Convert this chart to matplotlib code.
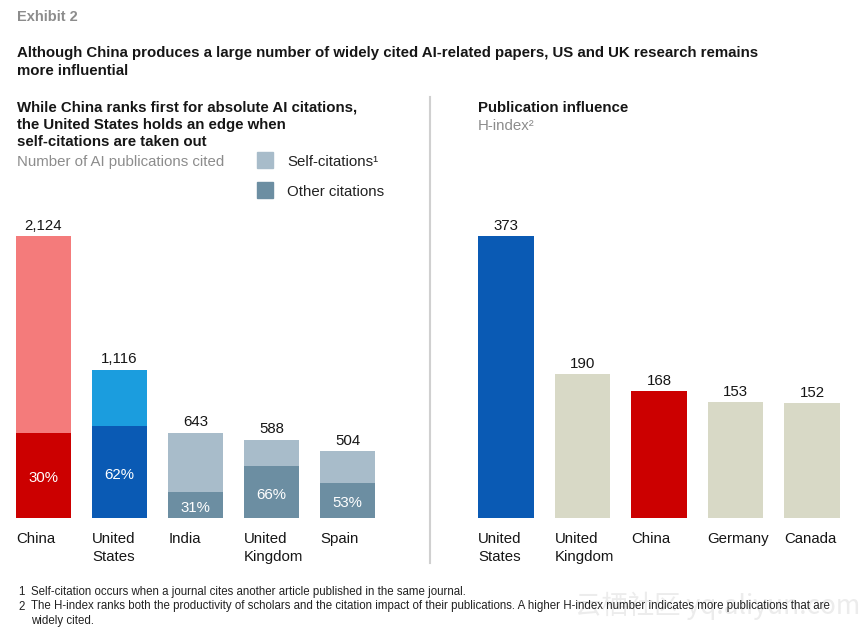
import matplotlib.pyplot as plt
import numpy as np

plt.rcParams['font.family'] = ['Liberation Sans', 'DejaVu Sans']

# left panel: AI citations
cite_countries = ["China", "United\nStates", "India", "United\nKingdom", "Spain"]
cite_totals = [2124, 1116, 643, 588, 504]
other_share = [30, 62, 31, 66, 53]   # % of citations that are not self-citations
self_colors = ['#F47B7B', '#1B9DDE', '#A8BCCA', '#A8BCCA', '#A8BCCA']
other_colors = ['#CC0000', '#0A5AB4', '#6C8EA2', '#6C8EA2', '#6C8EA2']

# right panel: H-index
h_countries = ["United\nStates", "United\nKingdom", "China", "Germany", "Canada"]
h_index = [373, 190, 168, 153, 152]
h_colors = ['#0A5AB4', '#D8D9C6', '#CC0000', '#D8D9C6', '#D8D9C6']

W, H = 866, 636
FS = 10.8
GRAY = '#8C8C8C'
INK = '#161616'


def fx(x):
    return x / W


def fy(y):
    return 1 - y / H


fig = plt.figure(figsize=(W / 100, H / 100), dpi=100)

# headers
fig.text(fx(17), fy(17), "Exhibit 2", fontsize=10.5, fontweight='bold', color=GRAY, va='center')
fig.text(fx(17), fy(53), "Although China produces a large number of widely cited AI-related papers, US and UK research remains",
         fontsize=FS, fontweight='bold', color=INK, va='center')
fig.text(fx(17), fy(71), "more influential", fontsize=FS, fontweight='bold', color=INK, va='center')

for i, line in enumerate(["While China ranks first for absolute AI citations,",
                          "the United States holds an edge when",
                          "self-citations are taken out"]):
    fig.text(fx(17), fy(107.5 + 17.5 * i), line, fontsize=FS, fontweight='bold', color=INK, va='center')
fig.text(fx(17), fy(161.5), "Number of AI publications cited", fontsize=FS, color=GRAY, va='center')

fig.text(fx(478), fy(107.5), "Publication influence", fontsize=FS, fontweight='bold', color=INK, va='center')
fig.text(fx(478), fy(125.5), "H-index\u00b2", fontsize=FS, color=GRAY, va='center')

# legend
fig.patches.append(plt.Rectangle((fx(257), fy(168)), fx(16), 16 / H, transform=fig.transFigure,
                                 color=self_colors[2]))
fig.patches.append(plt.Rectangle((fx(257), fy(198)), fx(16), 16 / H, transform=fig.transFigure,
                                 color=other_colors[2]))
fig.text(fx(287), fy(162.5), "Self-citations\u00b9", fontsize=FS, color='#222222', va='center')
fig.text(fx(287), fy(191.5), "Other citations", fontsize=FS, color='#222222', va='center')

# divider
fig.add_artist(plt.Line2D([fx(430), fx(430)], [fy(97), fy(563)], color='#D0D0D0', lw=1.5))

# left chart
ax1 = fig.add_axes([fx(5.5), fy(518), fx(380), 282 / H])
x = np.arange(len(cite_countries))
bw1 = 0.72
totals = np.array(cite_totals)
others = totals * np.array(other_share) / 100
selfs = totals - others
ax1.bar(x, others, width=bw1, color=other_colors)
ax1.bar(x, selfs, bottom=others, width=bw1, color=self_colors)
ax1.set_xlim(-0.5, len(x) - 0.5)
ax1.set_ylim(0, max(cite_totals))
for i in x:
    ax1.annotate(f"{cite_totals[i]:,}", (i, cite_totals[i]), xytext=(0, 2.5), textcoords='offset points',
                 ha='center', va='bottom', fontsize=FS, color=INK, annotation_clip=False)
    ax1.annotate(f"{other_share[i]}%", (i, others[i] / 2), xytext=(0, -2), textcoords='offset points',
                 ha='center', va='center', fontsize=FS, color='white', annotation_clip=False)
    ax1.annotate(cite_countries[i], (i - bw1 / 2, 0), xytext=(0, -10), textcoords='offset points',
                 ha='left', va='top', multialignment='left', linespacing=1.38,
                 fontsize=FS, color=INK, annotation_clip=False)
ax1.axis('off')

# right chart
ax2 = fig.add_axes([fx(467.75), fy(518), fx(382.5), 282 / H])
x2 = np.arange(len(h_countries))
bw2 = 0.73
ax2.bar(x2, h_index, width=bw2, color=h_colors)
ax2.set_xlim(-0.5, len(x2) - 0.5)
ax2.set_ylim(0, max(h_index))
for i in x2:
    ax2.annotate(str(h_index[i]), (i, h_index[i]), xytext=(0, 2.5), textcoords='offset points',
                 ha='center', va='bottom', fontsize=FS, color=INK, annotation_clip=False)
    ax2.annotate(h_countries[i], (i - bw2 / 2, 0), xytext=(0, -10), textcoords='offset points',
                 ha='left', va='top', multialignment='left', linespacing=1.38,
                 fontsize=FS, color=INK, annotation_clip=False)
ax2.axis('off')

# watermark
fig.text(fx(860), fy(606), "云栖社区 yq.aliyun.com", fontsize=19, color='#ECECEC', ha='right', va='center',
         family=['Noto Sans CJK SC', 'DejaVu Sans'], zorder=-1)

# footnotes
notes = [("1", "Self-citation occurs when a journal cites another article published in the same journal."),
         ("2", "The H-index ranks both the productivity of scholars and the citation impact of their publications. "
               "A higher H-index number indicates more publications that are"),
         ("", "widely cited.")]
for i, (num, txt) in enumerate(notes):
    fig.text(fx(18), fy(592 + 14.5 * i), num, fontsize=8.3, color='#222222', va='center')
    fig.text(fx(31), fy(592 + 14.5 * i), txt, fontsize=8.3, color='#222222', va='center')

fig.savefig("out.png", dpi=100, facecolor='white')
